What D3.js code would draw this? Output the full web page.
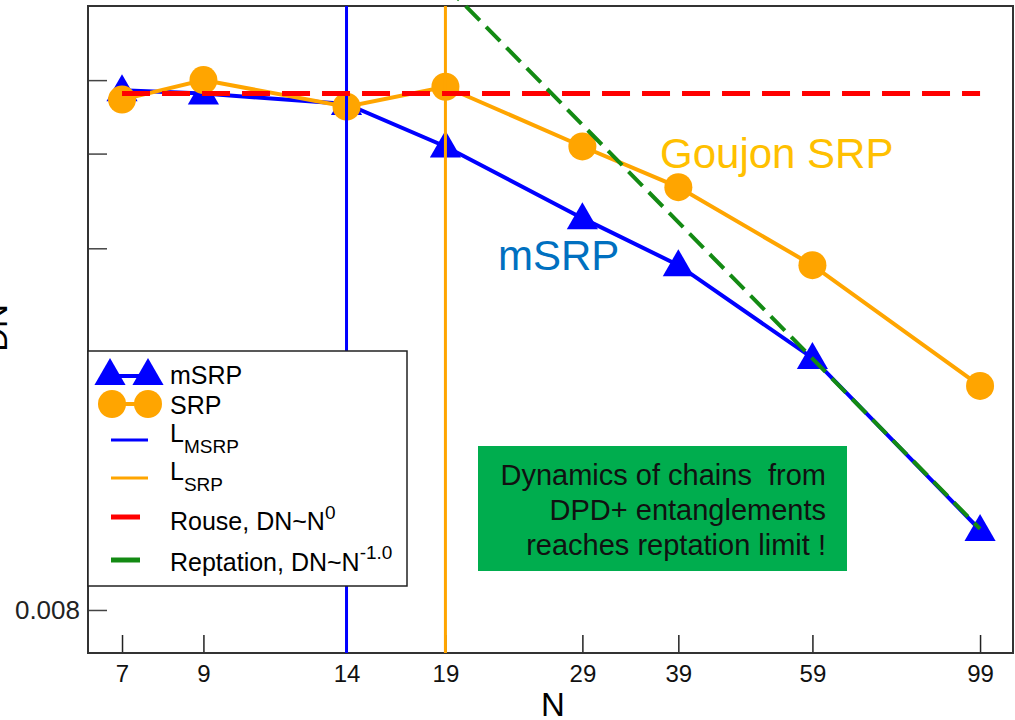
<!DOCTYPE html>
<html>
<head>
<meta charset="utf-8">
<script src="https://cdn.jsdelivr.net/npm/d3@7"></script>
<style>
  body { margin: 0; background: #fff; }
  svg { display: block; font-family: "Liberation Sans", Arial, sans-serif; }
</style>
</head>
<body>
<svg id="chart" width="1015" height="720"></svg>
<script>
  // chain lengths (x) and diffusion values
  var nValues = [7, 9, 14, 19, 29, 39, 59, 99];
  var msrpDN = [0.0388, 0.0384, 0.0372, 0.0327, 0.0263, 0.0228, 0.0172, 0.0102];
  var srpDN  = [0.0377, 0.0400, 0.0369, 0.0392, 0.0327, 0.0289, 0.0228, 0.0158];
  var yTicks = [0.008, 0.024, 0.032, 0.040];
  var yTickLabels = ["0.008", "", "", ""];
  var lMsrp = 14, lSrp = 19;          // vertical marks
  var rouseDN = 0.0384;               // DN ~ N^0
  var reptC = 1.013;                  // DN ~ C * N^-1
  var reptN = [19, 99];
  var boxLines = ["Dynamics of chains  from", "DPD+ entanglements", "reaches reptation limit !"];

  var blue = "#0000ff", orange = "#ffa500", red = "#ff0000", green = "#138a13";

  var svg = d3.select("#chart");
  // note: "top" is taken by window.top, so plot edges get a prefix
  var pLeft = 88, pRight = 1013, pTop = 6, pBottom = 653;

  var x = d3.scaleLog().domain([6.302, 109.6]).range([pLeft, pRight]);
  var y = d3.scaleLog().domain([0.00702, 0.0501]).range([pBottom, pTop]);

  /* axes */
  var xAxis = d3.axisBottom(x).tickValues(nValues).tickFormat(d3.format("d"))
      .tickSizeInner(-18).tickSizeOuter(0).tickPadding(8);
  var gx = svg.append("g").attr("transform", "translate(0," + pBottom + ")").call(xAxis);
  gx.select(".domain").remove();
  gx.selectAll("line").attr("stroke", "#222").attr("stroke-width", 1.5);
  gx.selectAll("text").attr("y", 29).attr("dy", 0).style("font-size", "24px").attr("fill", "#111");

  var yAxis = d3.axisLeft(y).tickValues(yTicks)
      .tickFormat(function(d, i){ return yTickLabels[i]; })
      .tickSizeInner(-19).tickSizeOuter(0).tickPadding(8);
  var gy = svg.append("g").attr("transform", "translate(" + pLeft + ",0)").call(yAxis);
  gy.select(".domain").remove();
  gy.selectAll("line").attr("stroke", "#444").attr("stroke-width", 1.5);
  gy.selectAll("text").style("font-size", "26px").attr("fill", "#222");

  svg.append("rect").attr("x", pLeft).attr("y", pTop)
    .attr("width", pRight - pLeft).attr("height", pBottom - pTop)
    .attr("fill", "none").attr("stroke", "#333").attr("stroke-width", 2);

  // axis titles
  svg.append("text").attr("x", 553).attr("y", 716).attr("text-anchor", "middle")
    .style("font-size", "33px").text("N");
  svg.append("text").attr("transform", "translate(7,328) rotate(-90)")
    .attr("text-anchor", "middle").style("font-size", "33px").text("DN");

  var line = d3.line().x(function(d){ return x(d[0]); }).y(function(d){ return y(d[1]); });
  var tri = d3.symbol().type(d3.symbolTriangle).size(420);

  /* mSRP */
  var msrp = d3.zip(nValues, msrpDN);
  svg.append("path").attr("d", line(msrp)).attr("fill", "none")
    .attr("stroke", blue).attr("stroke-width", 4);
  svg.selectAll(".tri").data(msrp).enter().append("path").attr("class", "tri")
    .attr("d", tri).attr("fill", blue)
    .attr("transform", function(d){ return "translate(" + x(d[0]) + "," + (y(d[1]) + 2) + ")"; });

  /* SRP */
  var srp = d3.zip(nValues, srpDN);
  svg.append("path").attr("d", line(srp)).attr("fill", "none")
    .attr("stroke", orange).attr("stroke-width", 4);
  svg.selectAll(".dot").data(srp).enter().append("circle").attr("class", "dot")
    .attr("cx", function(d){ return x(d[0]); }).attr("cy", function(d){ return y(d[1]); })
    .attr("r", 14).attr("fill", orange);

  // vertical marks
  [[lMsrp, blue], [lSrp, orange]].forEach(function(d){
    svg.append("line").attr("x1", x(d[0])).attr("x2", x(d[0]))
      .attr("y1", pTop).attr("y2", pBottom).attr("stroke", d[1]).attr("stroke-width", 3);
  });

  // Rouse and reptation guides
  svg.append("path").attr("d", line([[nValues[0], rouseDN], [nValues[nValues.length - 1], rouseDN]]))
    .attr("fill", "none").attr("stroke", red).attr("stroke-width", 5).attr("stroke-dasharray", "28,12");
  svg.append("path").attr("d", line(reptN.map(function(n){ return [n, reptC / n]; })))
    .attr("fill", "none").attr("stroke", green).attr("stroke-width", 4).attr("stroke-dasharray", "20,9");

  /* annotations */
  svg.append("text").attr("x", 660).attr("y", 168).style("font-size", "42px")
    .attr("fill", "#ffc000").text("Goujon SRP");
  svg.append("text").attr("x", 498).attr("y", 270).style("font-size", "42px")
    .attr("fill", "#0070c0").text("mSRP");

  svg.append("rect").attr("x", 478).attr("y", 446).attr("width", 369).attr("height", 125)
    .attr("fill", "#00ad4e");
  svg.selectAll(".boxline").data(boxLines).enter().append("text").attr("class", "boxline")
    .attr("x", 826).attr("y", function(d, i){ return 485 + i * 35; })
    .attr("text-anchor", "end").style("font-size", "29px").style("white-space", "pre")
    .attr("fill", "#111").text(function(d){ return d; });

  /* legend */
  var lg = svg.append("g");
  lg.append("rect").attr("x", 88).attr("y", 351).attr("width", 319).attr("height", 235)
    .attr("fill", "#fff").attr("stroke", "#222").attr("stroke-width", 1.5);

  lg.append("line").attr("x1", 110).attr("x2", 148).attr("y1", 376).attr("y2", 376)
    .attr("stroke", blue).attr("stroke-width", 4);
  [110, 148].forEach(function(cx){
    lg.append("path").attr("d", tri).attr("fill", blue).attr("transform", "translate(" + cx + ",376)");
  });
  lg.append("line").attr("x1", 112).attr("x2", 148).attr("y1", 404).attr("y2", 404)
    .attr("stroke", orange).attr("stroke-width", 4);
  [112, 148].forEach(function(cx){
    lg.append("circle").attr("cx", cx).attr("cy", 404).attr("r", 14).attr("fill", orange);
  });

  var entries = [
    {y: 440, color: blue, w: 3, x2: 148},
    {y: 478, color: orange, w: 3, x2: 148},
    {y: 517, color: red, w: 5, x2: 140},
    {y: 560, color: green, w: 5, x2: 140}
  ];
  entries.forEach(function(d){
    lg.append("line").attr("x1", 111).attr("x2", d.x2).attr("y1", d.y).attr("y2", d.y)
      .attr("stroke", d.color).attr("stroke-width", d.w);
  });

  var fs = "25px", sub = "19px";
  lg.append("text").attr("x", 170).attr("y", 384).style("font-size", fs).text("mSRP");
  lg.append("text").attr("x", 170).attr("y", 414).style("font-size", fs).text("SRP");
  var t1 = lg.append("text").attr("x", 170).attr("y", 442).style("font-size", fs);
  t1.append("tspan").text("L");
  t1.append("tspan").attr("dy", 11).style("font-size", sub).text("MSRP");
  var t2 = lg.append("text").attr("x", 170).attr("y", 480).style("font-size", fs);
  t2.append("tspan").text("L");
  t2.append("tspan").attr("dy", 11).style("font-size", sub).text("SRP");
  var t3 = lg.append("text").attr("x", 170).attr("y", 530).style("font-size", fs);
  t3.append("tspan").text("Rouse, DN~N");
  t3.append("tspan").attr("dy", -11).style("font-size", sub).text("0");
  var t4 = lg.append("text").attr("x", 170).attr("y", 571).style("font-size", fs);
  t4.append("tspan").text("Reptation, DN~N");
  t4.append("tspan").attr("dy", -12).style("font-size", sub).text("-1.0");
</script>
</body>
</html>
